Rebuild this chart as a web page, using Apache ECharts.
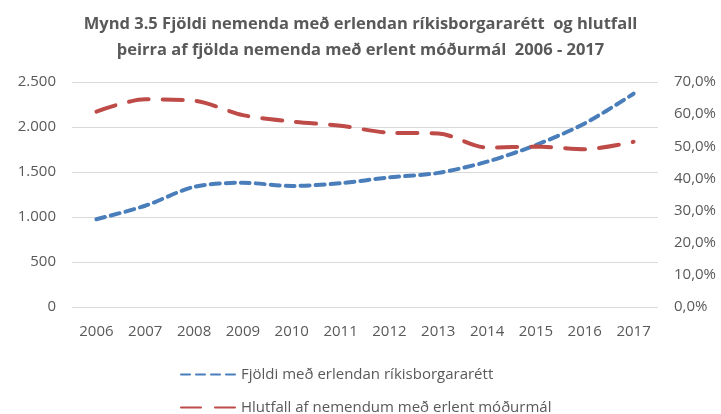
<!DOCTYPE html>
<html>
<head>
<meta charset="utf-8">
<script src="https://cdn.jsdelivr.net/npm/echarts@6/dist/echarts.min.js"></script>
<style>
  html, body { margin: 0; padding: 0; background: #fff; }
  #chart { width: 721px; height: 414px; }
</style>
</head>
<body>
<div id="chart"></div>
<script>
let years = ['2006', '2007', '2008', '2009', '2010', '2011', '2012', '2013', '2014', '2015', '2016', '2017'];
let fjoldi = [975, 1125, 1335, 1380, 1345, 1375, 1440, 1490, 1615, 1800, 2040, 2370];
let hlutfall = [60.8, 64.6, 64.2, 59.7, 57.7, 56.4, 54.2, 54.0, 49.6, 49.9, 49.1, 51.4];
let seriesNames = ['Fjöldi með erlendan ríkisborgararétt', 'Hlutfall af nemendum með erlent móðurmál'];

let fmtNum = v => String(v).replace(/\B(?=(\d{3})+(?!\d))/g, '.');
let fmtPct = v => v.toFixed(1).replace('.', ',') + '%';

// one legend per row so they stack like the original
let legendRow = (name, top) => ({
  left: 175,
  top: top,
  itemWidth: 55,
  itemHeight: 6,
  itemStyle: { opacity: 0 },
  textStyle: { color: '#595959', fontSize: 15 },
  data: [name],
});

let chart = echarts.init(document.getElementById('chart'));
chart.setOption({
  animation: false,
  textStyle: { fontFamily: 'Open Sans' },
  title: {
    text: 'Mynd 3.5 Fjöldi nemenda með erlendan ríkisborgararétt  og hlutfall\nþeirra af fjölda nemenda með erlent móðurmál  2006 - 2017',
    left: 'center',
    top: 6,
    textStyle: {
      color: '#595959',
      fontSize: 16.5,
      fontWeight: 'bold',
      lineHeight: 26,
    },
  },
  legend: [legendRow(seriesNames[0], 362), legendRow(seriesNames[1], 395)],
  grid: { left: 72, right: 63, top: 82, bottom: 107 },
  xAxis: {
    type: 'category',
    data: years,
    axisLine: { show: false },
    axisTick: { show: false },
    axisLabel: { color: '#595959', fontSize: 15, margin: 17 },
  },
  yAxis: [
    {
      type: 'value',
      min: 0,
      max: 2500,
      interval: 500,
      axisLabel: { color: '#595959', fontSize: 15, margin: 16, formatter: fmtNum },
      splitLine: { lineStyle: { color: '#d9d9d9', width: 1 } },
    },
    {
      type: 'value',
      min: 0,
      max: 70,
      interval: 10,
      axisLabel: { color: '#595959', fontSize: 15, margin: 16, formatter: fmtPct },
      splitLine: { show: false },
    },
  ],
  series: [
    {
      name: seriesNames[0],
      type: 'line',
      yAxisIndex: 0,
      smooth: 0.3,
      showSymbol: false,
      symbol: 'none',
      data: fjoldi,
      itemStyle: { color: '#4a7ebb' },
      lineStyle: { color: '#4a7ebb', width: 4, type: [9, 6], cap: 'round' },
    },
    {
      name: seriesNames[1],
      type: 'line',
      yAxisIndex: 1,
      smooth: 0.3,
      showSymbol: false,
      symbol: 'none',
      data: hlutfall,
      itemStyle: { color: '#be4b48' },
      lineStyle: { color: '#be4b48', width: 4, type: [20, 14], cap: 'round' },
    },
  ],
});
</script>
</body>
</html>
